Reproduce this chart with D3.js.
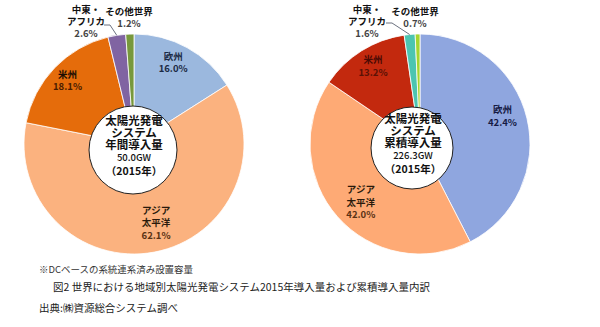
<!DOCTYPE html>
<html><head><meta charset="utf-8">
<script src="https://cdn.jsdelivr.net/npm/d3@7"></script>
<style>
html,body{margin:0;padding:0;background:#fff;}
svg{display:block;font-family:"Noto Sans CJK JP","Noto Sans",sans-serif;}
</style></head>
<body>
<svg id="c" width="600" height="327"></svg>
<script>
// ---- data ----
const regions = ["欧州", "アジア太平洋", "米州", "中東・アフリカ", "その他世界"];
const annualShare = [16.0, 62.1, 18.1, 2.6, 1.2];       // 2015年 年間導入量 (%)
const cumulativeShare = [42.4, 42.0, 13.2, 1.6, 0.7];   // 2015年 累積導入量 (%)
const regionLabelLines = [["欧州"], ["アジア", "太平洋"], ["米州"], ["中東・", "アフリカ"], ["その他世界"]];
const centerAnnual = ["太陽光発電", "システム", "年間導入量", "50.0GW", "（2015年）"];
const centerCumulative = ["太陽光発電", "システム", "累積導入量", "226.3GW", "（2015年）"];
const footNote = "※DCベースの系統連系済み設置容量";
const caption = "図2  世界における地域別太陽光発電システム2015年導入量および累積導入量内訳";
const source = "出典:㈱資源総合システム調べ";

// ---- styles / layout ----
const svg = d3.select("#c");
const R = 110;
const charts = [
  {values: annualShare, cx: 134, cy: 144, icx: 133, icy: 150, ir: 44,
   colors: ["#9bb8de", "#fbb27f", "#e56c0b", "#8064a2", "#77983c"],
   nameCol: ["#1b2a44", "#2a1a0c", "#1a0c02", "#111", "#111"],
   pctCol: ["#1b2a44", "#5a3214", "#4a1c00", "#444", "#444"],
   lblR: [90, 82, 92], lblDa: [-3, -5, 0],
   center: centerAnnual,
   outside: [{i: 3, dx: -48, dy: -122, line: [[-30, -119], [-24, -119]]}, {i: 4, dx: -5, dy: -126}]},
  {values: cumulativeShare, cx: 420, cy: 144, icx: 412, icy: 148, ir: 41,
   colors: ["#8fa6df", "#feaa75", "#c3290e", "#4cc5b0", "#a5d52f"],
   nameCol: ["#151a44", "#2a1a0c", "#4a0a04", "#111", "#111"],
   pctCol: ["#151a44", "#5a3214", "#5a1206", "#444", "#444"],
   lblR: [87, 83, 91], lblDa: [-5, -3, 1],
   center: centerCumulative,
   outside: [{i: 3, dx: -53, dy: -122, line: [[-34, -121], [-28, -121]]}, {i: 4, dx: -5, dy: -126}]}
];

const pie = d3.pie().sort(null).value(d => d);
const arc = d3.arc().innerRadius(0).outerRadius(R);

charts.forEach(ch => {
  const g = svg.append("g").attr("transform", `translate(${ch.cx},${ch.cy})`);
  const arcs = pie(ch.values);
  g.selectAll("path.slice").data(arcs).join("path")
    .attr("class", "slice")
    .attr("d", arc)
    .attr("fill", (d, i) => ch.colors[i])
    .attr("stroke", "#fff").attr("stroke-width", 0.8);

  // inside labels
  arcs.slice(0, 3).forEach((d, i) => {
    const a = (d.startAngle + d.endAngle) / 2 + ch.lblDa[i] * Math.PI / 180;
    const x = Math.sin(a) * ch.lblR[i], y = -Math.cos(a) * ch.lblR[i];
    const lines = regionLabelLines[i];
    const n = lines.length + 1, lh = 12.3;
    const y0 = y - (n - 1) * lh / 2;
    const t = g.append("text").attr("text-anchor", "middle")
      .attr("font-size", 9.5).attr("font-weight", 700);
    lines.forEach((s, k) => t.append("tspan").attr("x", x).attr("y", y0 + k * lh)
      .attr("dy", "0.35em").attr("fill", ch.nameCol[i]).text(s));
    t.append("tspan").attr("x", x).attr("y", y0 + lines.length * lh).attr("dy", "0.35em")
      .attr("fill", ch.pctCol[i]).text(d.data.toFixed(1) + "%");
  });

  // outside labels
  ch.outside.forEach(o => {
    const d = arcs[o.i];
    const lines = regionLabelLines[o.i];
    const n = lines.length + 1, lh = 12;
    const y0 = o.dy - (n - 1) * lh / 2;
    const t = g.append("text").attr("text-anchor", "middle")
      .attr("font-size", 9.5).attr("font-weight", 700);
    lines.forEach((s, k) => t.append("tspan").attr("x", o.dx).attr("y", y0 + k * lh)
      .attr("dy", "0.35em").attr("fill", "#111").text(s));
    t.append("tspan").attr("x", o.dx).attr("y", y0 + lines.length * lh).attr("dy", "0.35em")
      .attr("fill", "#444").text(d.data.toFixed(1) + "%");
    if (o.line) {
      const a = (d.startAngle + d.endAngle) / 2;
      const end = [Math.sin(a) * R, -Math.cos(a) * R];
      g.append("path").attr("d", d3.line()([...o.line, end]))
        .attr("fill", "none").attr("stroke", "#5a6170").attr("stroke-width", 0.9);
    }
  });

  // center circle
  svg.append("circle").attr("cx", ch.icx).attr("cy", ch.icy).attr("r", ch.ir)
    .attr("fill", "#fff").attr("stroke", "#222").attr("stroke-width", 1);
  const sizes = [11.5, 11.5, 11.5, 9.5, 10.5];
  const offs = [-28, -16, -4, 9, 22];
  const ct = svg.append("text").attr("text-anchor", "middle").attr("fill", "#111");
  ch.center.forEach((s, k) => {
    ct.append("tspan").attr("x", ch.icx + 1).attr("y", ch.icy + offs[k] - 1).attr("dy", "0.35em")
      .attr("font-size", sizes[k])
      .attr("font-weight", k === 3 ? 500 : 700).text(s);
  });
});

// footer
svg.append("text").attr("x", 39).attr("y", 270).attr("dy", "0.35em")
  .attr("font-size", 9.3).attr("fill", "#333")
  .attr("textLength", 154).attr("lengthAdjust", "spacingAndGlyphs").text(footNote);
svg.append("text").attr("x", 53).attr("y", 287).attr("dy", "0.35em")
  .attr("font-size", 10.5).attr("fill", "#222")
  .attr("textLength", 377).attr("lengthAdjust", "spacingAndGlyphs").text(caption);
svg.append("text").attr("x", 39).attr("y", 308).attr("dy", "0.35em")
  .attr("font-size", 10.5).attr("fill", "#222")
  .attr("textLength", 139).attr("lengthAdjust", "spacingAndGlyphs").text(source);
</script>
</body></html>
